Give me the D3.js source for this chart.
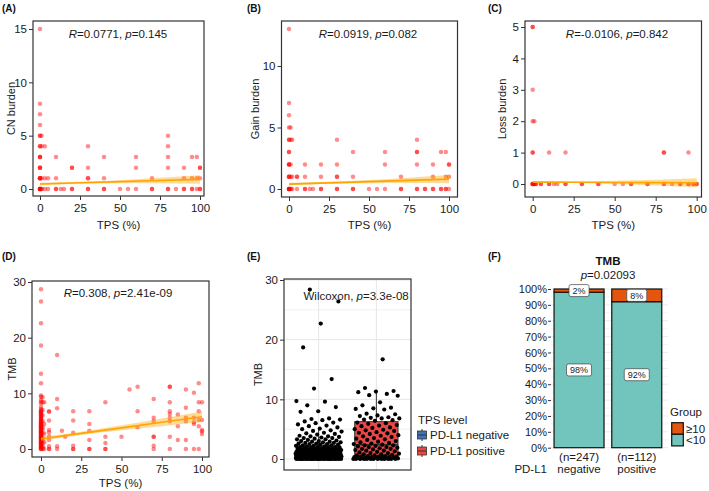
<!DOCTYPE html>
<html><head><meta charset="utf-8">
<script src="https://cdn.jsdelivr.net/npm/d3@7"></script>
<style>body{margin:0;background:#fff}svg{display:block;font-family:"Liberation Sans",Arial,Helvetica,sans-serif}</style>
</head><body><svg id="c" width="709" height="491"></svg>
<script>
// ---------------- DATA ----------------
const tpsTicks = [0, 25, 50, 75, 100];
const fitX = [0, 25, 50, 75, 100];

// (A) CN burden vs TPS  [TPS, value]
const cnPoints = [
 [0,15],[0,8],[0,7],[0,6],[0,5],[0,5],[0,4],[0,4],[0,3],[0,3],[0,3],[0,2],[0,2],[0,2],[0,1],[0,1],[0,1],[0,1],[0,0],[0,0],[0,0],[0,0],[0,0],[0,0],
 [1,5],[1,4],[1,1],[1,0],[1,0],[3,4],[3,1],[3,0],[5,1],[5,0],
 [10,3],[10,1],[10,0],[10,0],[13,0],[15,0],[20,2],[20,2],[20,0],[20,0],
 [30,4],[30,2],[30,1],[30,1],[30,0],[30,0],[40,3],[40,1],[40,0],[40,0],[50,0],[55,0],
 [60,3],[60,2],[60,0],[70,1],[70,0],[70,0],[80,5],[80,4],[80,3],[80,2],[80,0],[80,0],[85,0],
 [90,2],[90,1],[90,0],[90,0],[95,3],[95,1],[95,0],[95,0],[98,3],[98,1],[98,0],[100,2],[100,2],[100,1],[100,0],[100,0]
];
const fitCN = [0.47, 0.58, 0.69, 0.79, 0.90];
const halfCN = [0.12, 0.09, 0.14, 0.26, 0.40];

// (B) Gain burden vs TPS
const gainPoints = [
 [0,13],[0,7],[0,6],[0,5],[0,4],[0,4],[0,3],[0,3],[0,2],[0,2],[0,2],[0,1],[0,1],[0,1],[0,0],[0,0],[0,0],[0,0],[0,0],
 [1,5],[1,4],[1,2],[1,1],[1,0],[1,0],[2,4],[2,1],[2,0],[5,1],[5,1],[5,0],
 [10,2],[10,1],[10,0],[10,0],[13,0],[15,0],[20,2],[20,1],[20,0],[20,0],
 [30,4],[30,2],[30,1],[30,1],[30,0],[30,0],[40,3],[40,1],[40,0],[40,0],[50,0],[55,0],
 [60,3],[60,2],[60,0],[70,1],[70,0],[70,0],[80,4],[80,3],[80,3],[80,2],[80,0],[80,0],[85,0],[85,0],
 [90,2],[90,1],[90,0],[90,0],[95,3],[95,0],[95,0],[98,3],[98,1],[98,0],[98,0],[100,2],[100,2],[100,1],[100,0]
];
const fitGain = [0.40, 0.50, 0.60, 0.70, 0.80];
const halfGain = [0.10, 0.08, 0.13, 0.22, 0.33];

// (C) Loss burden vs TPS
const lossPoints = [
 [0,5],[0,5],[0,3],[0,2],[0,1],[0,1],[0,0],[0,0],[0,0],[0,0],[1,2],[1,0],[1,0],[2,0],[2,0],[5,0],[5,0],
 [10,1],[10,0],[10,0],[13,0],[15,0],[20,1],[20,0],[20,0],[30,0],[30,0],[40,0],[40,0],
 [50,0],[55,0],[60,0],[60,0],[70,0],[70,0],[80,1],[80,1],[80,0],[80,0],[85,0],[90,0],[90,0],
 [95,1],[95,0],[95,0],[98,0],[98,0],[100,0],[100,0]
];
const fitLoss = [0.06, 0.055, 0.05, 0.045, 0.04];
const halfLoss = [0.03, 0.025, 0.05, 0.09, 0.14];

// (D) TMB vs TPS
const tmbPoints = [
 [0,28.7],[0,26.5],[0,22.6],[0,18.6],[0,13.5],[0,11.8],[0,9.6],[0,9.4],[0,8.8],[0,8.5],[0,8.2],[0,7.6],[0,7.2],[0,7.0],
 [0,6.8],[0,6.6],[0,6.4],[0,6.2],[0,6.0],[0,5.8],[0,5.6],[0,5.4],[0,5.2],[0,5.0],[0,4.8],[0,4.6],[0,4.4],[0,4.2],[0,4.0],
 [0,3.8],[0,3.6],[0,3.4],[0,3.2],[0,3.0],[0,2.8],[0,2.6],[0,2.4],[0,2.2],[0,2.0],[0,1.8],[0,1.6],[0,1.4],[0,1.2],[0,1.0],
 [0,0.8],[0,0.6],[0,0.4],[0,0.2],[0,0],[0,0],[0,0.1],[0,0.3],[0,0.5],[0,0.7],[0,0.9],[0,1.1],[0,1.3],[0,1.5],[0,1.7],
 [0,1.9],[0,2.1],[0,2.3],[0,2.5],[0,2.7],[0,2.9],[0,3.1],[0,3.3],[0,3.5],[0,3.7],[0,3.9],[0,4.1],[0,4.3],[0,4.5],[0,4.7],
 [0,5.1],[0,5.5],[0,6.1],[0,6.7],
 [1,9.3],[1,8.4],[1,7.0],[1,6.0],[1,5.0],[1,4.0],[1,3.5],[1,2.8],[1,2.0],[1,1.5],[1,1.0],[1,0.5],[1,0.2],[1,0],
 [2,8.4],[2,4.5],[2,2.8],[2,1.2],[2,0],
 [5,6.8],[5,6.7],[5,5.1],[5,3.4],[5,3.0],[5,2.3],[5,1.6],[5,0.5],[5,0],[5,0],
 [10,16.9],[10,9.0],[10,7.3],[10,0.5],[10,0],[13,3.3],[15,2.2],
 [20,6.8],[20,5.1],[20,2.9],[20,0.6],[20,0],[20,0],
 [30,6.8],[30,4.5],[30,3.3],[30,1.6],[30,0],[30,0],
 [40,8.4],[40,2.2],[40,1.1],[40,0],[40,0],[50,2.2],[55,10.7],[60,11.2],[60,6.8],[60,3.9],
 [70,9.0],[70,5.6],[70,5.0],[70,2.2],[70,2.2],[70,0.6],[70,0],
 [80,11.2],[80,11.2],[80,8.4],[80,6.8],[80,6.3],[80,5.6],[80,5.0],[80,2.2],[80,0],
 [85,6.2],[85,4.1],[85,1.6],[90,10.7],[90,7.4],[90,5.6],[90,5.0],[90,1.6],[90,0],
 [95,10.1],[95,5.6],[95,4.8],[95,4.5],[95,0],[98,11.8],[98,8.4],[98,6.8],[98,5.2],[98,4.1],[98,0],
 [100,8.4],[100,5.2],[100,3.4],[100,3.2],[100,2.7]
];
const fitTMB = [1.8, 2.8, 3.8, 4.8, 5.8];
const halfTMB = [0.35, 0.30, 0.45, 0.70, 0.95];

// (E) TMB by TPS level
const tpsLevels = ["PD-L1 negative", "PD-L1 positive"];
const tmbNeg = [
 28.4,26.4,22.7,18.7,13.4,11.8,9.7,9.6,9.0,8.7,8.0,7.9,
 6.8,6.7,6.6,6.5,6.3,6.1,6.0,5.8,5.6,5.5,5.3,5.1,5.0,4.8,4.7,4.6,4.4,4.3,4.2,4.1,
 3.9,3.8,3.8,3.7,3.6,3.5,3.5,3.4,3.3,3.3,3.2,3.1,3.0,3.0,2.9,2.9,2.8,2.8,2.7,2.7,2.6,2.6,2.5,2.5,2.4,2.4,2.3,2.3,2.2,2.2,2.1,2.1,2.0,2.0,2.0,
 1.9,1.9,1.9,1.8,1.8,1.8,1.7,1.7,1.7,1.6,1.6,1.6,1.6,1.5,1.5,1.5,1.5,1.45,1.4,1.4,1.4,1.4,1.35,1.3,1.3,1.3,1.3,1.3,1.25,
 1.2,1.2,1.2,1.2,1.2,1.15,1.1,1.1,1.1,1.1,1.1,1.05,1.0,1.0,1.0,1.0,1.0,1.0,
 0.95,0.9,0.9,0.9,0.9,0.9,0.9,0.9,0.9,0.85,0.8,0.8,0.8,0.8,0.8,0.8,0.8,0.8,0.8,0.75,
 0.7,0.7,0.7,0.7,0.7,0.7,0.7,0.7,0.7,0.7,0.6,0.6,0.6,0.6,0.6,0.6,0.6,0.6,0.6,0.6,0.6,
 0.5,0.5,0.5,0.5,0.5,0.5,0.5,0.5,0.5,0.5,0.5,0.5,0.4,0.4,0.4,0.4,0.4,0.4,0.4,0.4,0.4,0.4,0.4,0.4,0.4,
 0.3,0.3,0.3,0.3,0.3,0.3,0.3,0.3,0.3,0.3,0.3,0.3,0.3,0.3,0.2,0.2,0.2,0.2,0.2,0.2,0.2,0.2,0.2,0.2,0.2,0.2,0.2,0.2,
 0.1,0.1,0.1,0.1,0.1,0.1,0.1,0.1,0.1,0.1,0.1,0.1,0.1,0.1,
 0,0,0,0,0,0,0,0,0,0,0,0,0,0,0,0,0,0,0,0,0,0,0,0,0
];
const tmbPos = [
 16.7,11.9,11.4,11.3,11.2,10.9,10.7,10.6,9.5,9.0,8.6,8.5,8.4,8.3,7.6,7.5,7.3,7.2,7.0,6.9,6.8,6.8,6.6,6.5,6.4,
 6.1,6.0,5.9,5.7,5.6,5.5,5.3,5.2,5.0,4.9,4.8,4.7,4.5,4.4,4.3,4.2,4.0,3.9,3.8,3.7,3.5,3.4,3.3,3.2,3.0,2.9,2.8,2.7,2.6,2.5,
 2.4,2.3,2.3,2.2,2.1,2.0,2.0,1.9,1.8,1.7,1.7,1.6,1.5,1.4,1.4,1.3,1.2,1.1,1.0,1.0,0.9,0.8,0.8,0.7,0.6,0.6,0.5,0.5,
 0.4,0.4,0.4,0.3,0.3,0.3,0.3,0.2,0.2,0.2,0.2,0.1,0.1,0.1,0.1,0.1,0,0,0,0,0,0,0,0,0,0,0,0,0
];
// box stats: [lower whisker, Q1, median, Q3, upper whisker]
const boxNeg = [0, 0.3, 0.9, 2.2, 5.0];
const boxPos = [0, 0.5, 2.4, 6.26, 11.6];
const tmbTicks = [0, 10, 20, 30];

// (F) TMB group share by PD-L1
const pdl1Cats = ["negative", "positive"];
const pdl1N = [247, 112];
const pctBelow10 = [98, 92];
const pctAbove10 = [2, 8];
const pctTicks = [0,10,20,30,40,50,60,70,80,90,100];

// ---------------- DRAW ----------------
const svg = d3.select("#c");
const FONT = 11.5;
const txtCol = "#1a1a1a";

function styleAxis(a, fs) {
  a.select(".domain").remove();
  a.attr("font-family", null).attr("font-size", null);
  a.selectAll("text").attr("font-size", fs || FONT).attr("fill", txtCol);
  a.selectAll("line").attr("stroke", "#333").attr("stroke-width", 1);
}
function label(txt, x, y) {
  svg.append("text").attr("x", x).attr("y", y).attr("font-size", 10).attr("font-weight", "bold").attr("fill", "#111").text(txt);
}
function statText(x, y, parts, anchor) {
  const t = svg.append("text").attr("x", x).attr("y", y).attr("font-size", FONT).attr("fill", txtCol)
    .attr("text-anchor", anchor || "middle");
  parts.forEach(p => t.append("tspan").attr("font-style", p[1] ? "italic" : null).text(p[0]));
  return t;
}

function scatter(cfg) {
  const [bx0, bx1, by0, by1] = cfg.box;
  const x = d3.scaleLinear().domain([0, 100]).range(cfg.xr);
  const y = d3.scaleLinear().domain(cfg.yd).range(cfg.yr);
  const cid = "clip" + cfg.key;
  svg.append("clipPath").attr("id", cid).append("rect")
    .attr("x", bx0).attr("y", by0).attr("width", bx1 - bx0).attr("height", by1 - by0);
  const pg = svg.append("g").attr("clip-path", `url(#${cid})`);
  pg.selectAll("circle").data(cfg.points).join("circle")
    .attr("cx", d => x(d[0])).attr("cy", d => y(d[1])).attr("r", 2.25)
    .attr("fill", "#ff0000").attr("fill-opacity", 0.45);
  const fit = fitX.map((v, i) => [v, cfg.mid[i], cfg.half[i]]);
  pg.append("path").datum(fit)
    .attr("d", d3.area().x(d => x(d[0])).y0(d => y(d[1] - d[2])).y1(d => y(d[1] + d[2])).curve(d3.curveMonotoneX))
    .attr("fill", "#ffa500").attr("fill-opacity", 0.4);
  pg.append("path").datum(fit)
    .attr("d", d3.line().x(d => x(d[0])).y(d => y(d[1])))
    .attr("fill", "none").attr("stroke", "#ffa500").attr("stroke-width", 1.6);
  svg.append("rect").attr("x", bx0).attr("y", by0).attr("width", bx1 - bx0).attr("height", by1 - by0)
    .attr("fill", "none").attr("stroke", "#333").attr("stroke-width", 1.2);
  styleAxis(svg.append("g").attr("transform", `translate(${bx0},0)`)
    .call(d3.axisLeft(y).tickValues(cfg.yTicks).tickSize(4).tickPadding(2).tickFormat(d3.format("d"))));
  styleAxis(svg.append("g").attr("transform", `translate(0,${by1})`)
    .call(d3.axisBottom(x).tickValues(tpsTicks).tickSize(4).tickPadding(4).tickFormat(d3.format("d"))));
  svg.append("text").attr("x", (bx0 + bx1) / 2).attr("y", cfg.xTitleY).attr("text-anchor", "middle")
    .attr("font-size", FONT).attr("fill", txtCol).text("TPS (%)");
  svg.append("text").attr("transform", `translate(${cfg.yTitleX},${(by0 + by1) / 2}) rotate(-90)`)
    .attr("text-anchor", "middle").attr("font-size", 11).attr("fill", txtCol).text(cfg.yTitle);
  statText(cfg.ann[0], cfg.ann[1], [["R", 1], ["=" + cfg.R + ", "], ["p", 1], ["=" + cfg.p]]);
  label(cfg.letter, cfg.lp[0], cfg.lp[1]);
}

scatter({key:"A", box:[33,204,21,196], xr:[40,200], yd:[0,15], yr:[189,29], yTicks:[0,5,10,15],
  points:cnPoints, mid:fitCN, half:halfCN, yTitle:"CN burden", yTitleX:15, xTitleY:229,
  ann:[118,38], R:"0.0771", p:"0.145", letter:"(A)", lp:[2,12]});
scatter({key:"B", box:[281.5,457.5,21,197], xr:[289,449], yd:[0,10], yr:[189,66], yTicks:[0,5,10],
  points:gainPoints, mid:fitGain, half:halfGain, yTitle:"Gain burden", yTitleX:259, xTitleY:229,
  ann:[368,38], R:"0.0919", p:"0.082", letter:"(B)", lp:[247,12]});
scatter({key:"C", box:[525,701.5,21,197], xr:[532.7,696.7], yd:[0,5], yr:[184,27], yTicks:[0,1,2,3,4,5],
  points:lossPoints, mid:fitLoss, half:halfLoss, yTitle:"Loss burden", yTitleX:506, xTitleY:229,
  ann:[617,38], R:"-0.0106", p:"0.842", letter:"(C)", lp:[488,12]});
scatter({key:"D", box:[32,209,281,457], xr:[41,202], yd:[0,30], yr:[449,282], yTicks:tmbTicks,
  points:tmbPoints, mid:fitTMB, half:halfTMB, yTitle:"TMB", yTitleX:16, xTitleY:487,
  ann:[118,297], R:"0.308", p:"2.41e-09", letter:"(D)", lp:[2,260]});

// ---- (E) box + jitter ----
(function () {
  const bx0 = 284, bx1 = 411, by0 = 279, by1 = 470;
  const x = d3.scalePoint().domain(tpsLevels).range([bx0, bx1]).padding(0.6);
  const y = d3.scaleLinear().domain([0, 30]).range([459, 280]);
  const step = x.step();
  const g = svg.append("g");
  d3.range(0, 31, 5).forEach(v => g.append("line").attr("x1", bx0).attr("x2", bx1).attr("y1", y(v)).attr("y2", y(v))
    .attr("stroke", "#e6e6e6").attr("stroke-width", v % 10 === 0 ? 1 : 0.6));
  tpsLevels.forEach(c => g.append("line").attr("x1", x(c)).attr("x2", x(c)).attr("y1", by0).attr("y2", by1)
    .attr("stroke", "#e6e6e6").attr("stroke-width", 1));
  const boxes = [[tpsLevels[0], boxNeg, "#3f72b5"], [tpsLevels[1], boxPos, "#ec4747"]];
  const bw = step * 0.75;
  boxes.forEach(([c, s, col]) => {
    const cx = x(c);
    g.append("line").attr("x1", cx).attr("x2", cx).attr("y1", y(s[0])).attr("y2", y(s[4])).attr("stroke", "#333").attr("stroke-width", 1);
    g.append("rect").attr("x", cx - bw / 2).attr("width", bw).attr("y", y(s[3])).attr("height", y(s[1]) - y(s[3]))
      .attr("fill", col).attr("stroke", "#333").attr("stroke-width", 1);
    g.append("line").attr("x1", cx - bw / 2).attr("x2", cx + bw / 2).attr("y1", y(s[2])).attr("y2", y(s[2]))
      .attr("stroke", "#333").attr("stroke-width", 1.4);
  });
  const jit = i => (((i * 0.6180339887 + 0.31) % 1) - 0.5) * 2 * 0.4 * step;
  const pts = tmbNeg.map((v, i) => [tpsLevels[0], v, jit(i)]).concat(tmbPos.map((v, i) => [tpsLevels[1], v, jit(i + 7)]));
  g.selectAll("circle.j").data(pts).join("circle").attr("class", "j")
    .attr("cx", d => x(d[0]) + d[2]).attr("cy", d => y(d[1])).attr("r", 2.1).attr("fill", "#000");
  svg.append("rect").attr("x", bx0).attr("y", by0).attr("width", bx1 - bx0).attr("height", by1 - by0)
    .attr("fill", "none").attr("stroke", "#333").attr("stroke-width", 1.2);
  styleAxis(svg.append("g").attr("transform", `translate(${bx0},0)`)
    .call(d3.axisLeft(y).tickValues(tmbTicks).tickSize(4).tickPadding(2)));
  svg.append("text").attr("transform", `translate(262,${(by0 + by1) / 2}) rotate(-90)`)
    .attr("text-anchor", "middle").attr("font-size", 11).attr("fill", txtCol).text("TMB");
  statText(303.5, 300, [["Wilcoxon, "], ["p", 1], ["=3.3e-08"]], "start");
  label("(E)", 247, 260);
  // legend
  svg.append("text").attr("x", 418).attr("y", 424).attr("font-size", FONT).attr("fill", txtCol).text("TPS level");
  boxes.forEach(([c, s, col], i) => {
    const cy = 435 + i * 16;
    svg.append("line").attr("x1", 422).attr("x2", 422).attr("y1", cy - 6).attr("y2", cy + 6).attr("stroke", "#333");
    svg.append("rect").attr("x", 417.5).attr("y", cy - 4).attr("width", 9).attr("height", 8).attr("fill", col).attr("stroke", "#333").attr("stroke-width", 0.8);
    svg.append("line").attr("x1", 417.5).attr("x2", 426.5).attr("y1", cy).attr("y2", cy).attr("stroke", "#333").attr("stroke-width", 1);
    svg.append("text").attr("x", 430).attr("y", cy + 4).attr("font-size", FONT).attr("fill", txtCol).text(c);
  });
})();

// ---- (F) stacked percent bars ----
(function () {
  const x = d3.scalePoint().domain(pdl1Cats).range([544.4, 671.4]).padding(0.6);
  const y = d3.scaleLinear().domain([0, 100]).range([447.7, 289]);
  const bw = x.step() * 0.866;
  const g = svg.append("g");
  d3.range(0, 101, 5).forEach(v => g.append("line").attr("x1", 551).attr("x2", 668).attr("y1", y(v)).attr("y2", y(v))
    .attr("stroke", v % 10 === 0 ? "#ebebeb" : "#f4f4f4").attr("stroke-width", 1));
  const teal = "#72c5bc", orange = "#e4560e";
  pdl1Cats.forEach((c, i) => {
    const x0 = x(c) - bw / 2;
    g.append("rect").attr("x", x0).attr("width", bw).attr("y", y(pctBelow10[i])).attr("height", y(0) - y(pctBelow10[i]))
      .attr("fill", teal).attr("stroke", "#111").attr("stroke-width", 1.2);
    g.append("rect").attr("x", x0).attr("width", bw).attr("y", y(100)).attr("height", y(pctBelow10[i]) - y(100))
      .attr("fill", orange).attr("stroke", "#111").attr("stroke-width", 1.2);
    [[pctBelow10[i] / 2, pctBelow10[i]], [pctBelow10[i] + pctAbove10[i] / 2, pctAbove10[i]]].forEach(([pos, v]) => {
      const t = g.append("text").attr("x", x(c)).attr("y", y(pos) + 3.3).attr("text-anchor", "middle")
        .attr("font-size", 9).attr("fill", "#222").text(v + "%");
      const w = t.node().getComputedTextLength() + 7;
      g.insert("rect", () => t.node()).attr("x", x(c) - w / 2).attr("y", y(pos) - 6).attr("width", w).attr("height", 12)
        .attr("rx", 2).attr("fill", "#fff").attr("stroke", "#444").attr("stroke-width", 0.7);
    });
    svg.append("text").attr("x", x(c)).attr("y", 461).attr("text-anchor", "middle").attr("font-size", FONT).attr("fill", txtCol)
      .text(`(n=${pdl1N[i]})`);
    svg.append("text").attr("x", x(c)).attr("y", 473).attr("text-anchor", "middle").attr("font-size", FONT).attr("fill", txtCol)
      .text(c);
  });
  svg.append("text").attr("x", 547).attr("y", 473).attr("text-anchor", "end").attr("font-size", FONT).attr("fill", txtCol).text("PD-L1");
  styleAxis(svg.append("g").attr("transform", "translate(551,0)")
    .call(d3.axisLeft(y).tickValues(pctTicks).tickSize(3).tickPadding(1).tickFormat(d => d + "%")), 11);
  svg.append("text").attr("x", 608).attr("y", 265).attr("text-anchor", "middle").attr("font-size", FONT)
    .attr("font-weight", "bold").attr("fill", "#111").text("TMB");
  statText(608, 279, [["p", 1], ["=0.02093"]]);
  label("(F)", 488, 260);
  svg.append("text").attr("x", 670).attr("y", 416).attr("font-size", FONT).attr("fill", txtCol).text("Group");
  [["≥10", orange], ["<10", teal]].forEach(([t, col], i) => {
    const yy = 422.7 + i * 11.6;
    svg.append("rect").attr("x", 671.7).attr("y", yy).attr("width", 11.6).attr("height", 11.6)
      .attr("fill", col).attr("stroke", "#111").attr("stroke-width", 1.2);
    svg.append("text").attr("x", 686).attr("y", yy + 10).attr("font-size", FONT).attr("fill", txtCol).text(t);
  });
})();
</script></body></html>
